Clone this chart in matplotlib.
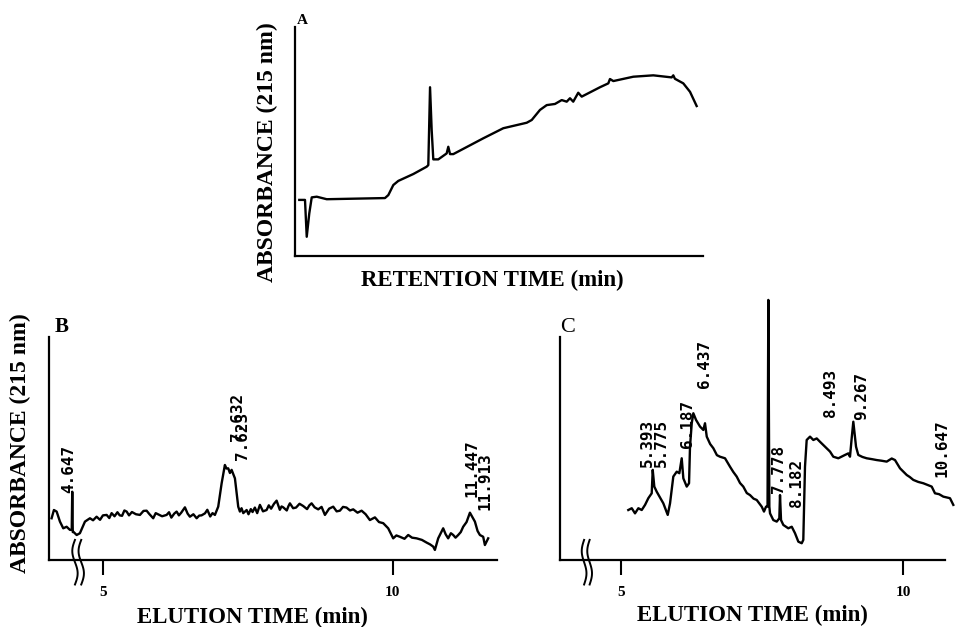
import numpy as np
import matplotlib
matplotlib.use('Agg')
import matplotlib.pyplot as plt

SERIF = 'Liberation Serif'
MONO = 'DejaVu Sans Mono'

# Panel A: retention time (arbitrary min) vs absorbance (arbitrary units)
a_time = [0.42, 0.98, 1.15, 1.40, 1.64, 2.13, 3.11, 5.39, 8.82, 9.15, 9.64, 10.13,
          11.60, 12.91, 13.07, 13.24, 13.40, 13.56, 14.05, 14.87, 15.03, 15.20, 15.52,
          18.46, 20.42, 22.72, 23.21, 24.02, 24.68, 25.49, 26.15, 26.64, 26.96, 27.28,
          27.77, 28.11, 29.90, 30.72, 30.88, 31.21, 33.17, 35.13, 36.93, 37.09, 37.25,
          38.07, 38.73, 39.38]
a_abs = [0.245, 0.245, 0.084, 0.186, 0.256, 0.259, 0.248, 0.250, 0.253, 0.266, 0.310, 0.328,
         0.358, 0.390, 0.397, 0.737, 0.550, 0.422, 0.422, 0.448, 0.477, 0.445, 0.445,
         0.514, 0.558, 0.582, 0.594, 0.638, 0.659, 0.664, 0.681, 0.674, 0.689, 0.674,
         0.713, 0.696, 0.737, 0.754, 0.773, 0.764, 0.783, 0.789, 0.780, 0.789, 0.774,
         0.754, 0.717, 0.655]

# Panel B: elution time (min) vs absorbance
b_time = [4.115, 4.155, 4.202, 4.259, 4.316, 4.374, 4.431, 4.462, 4.471, 4.480, 4.488,
          4.547, 4.603, 4.690, 4.776, 4.83, 4.891, 4.95, 5.00, 5.064, 5.11, 5.15, 5.20, 5.25,
          5.29, 5.33, 5.37, 5.409, 5.45, 5.50, 5.57, 5.638, 5.70, 5.753, 5.80, 5.867, 5.91,
          5.95, 6.02, 6.098, 6.14, 6.18, 6.23, 6.271, 6.31, 6.35, 6.414, 6.46, 6.500, 6.56,
          6.616, 6.66, 6.70, 6.759, 6.80, 6.85, 6.89, 6.931, 6.988, 7.047, 7.103, 7.13,
          7.160, 7.19, 7.219, 7.276, 7.333, 7.362, 7.39, 7.42, 7.478, 7.51, 7.55, 7.58, 7.62,
          7.66, 7.707, 7.76, 7.822, 7.86, 7.90, 7.95, 7.995, 8.05, 8.08, 8.109, 8.17, 8.20,
          8.224, 8.28, 8.33, 8.39, 8.453, 8.52, 8.56, 8.598, 8.65, 8.712, 8.77, 8.828, 8.90,
          8.971, 9.03, 9.086, 9.14, 9.20, 9.26, 9.316, 9.39, 9.460, 9.53, 9.603, 9.690,
          9.76, 9.833, 9.919, 10.005, 10.06, 10.121, 10.20, 10.264, 10.33, 10.409, 10.50,
          10.581, 10.64, 10.695, 10.724, 10.781, 10.867, 10.91, 10.953, 11.00, 11.040,
          11.08, 11.126, 11.17, 11.212, 11.27, 11.328, 11.414, 11.46, 11.500, 11.557,
          11.586, 11.643]
b_abs = [0.187, 0.224, 0.217, 0.172, 0.142, 0.149, 0.135, 0.135, 0.306, 0.125, 0.127,
         0.112, 0.120, 0.172, 0.187, 0.178, 0.194, 0.180, 0.200, 0.202, 0.188, 0.210, 0.196,
         0.214, 0.200, 0.198, 0.222, 0.217, 0.200, 0.215, 0.205, 0.202, 0.220, 0.221, 0.206,
         0.187, 0.210, 0.205, 0.196, 0.202, 0.214, 0.190, 0.208, 0.217, 0.200, 0.212, 0.236,
         0.208, 0.194, 0.205, 0.187, 0.199, 0.200, 0.209, 0.225, 0.195, 0.210, 0.202, 0.239,
         0.344, 0.426, 0.410, 0.411, 0.390, 0.404, 0.366, 0.239, 0.217, 0.232, 0.210, 0.224,
         0.205, 0.228, 0.215, 0.235, 0.210, 0.247, 0.218, 0.224, 0.245, 0.230, 0.252, 0.266,
         0.225, 0.240, 0.236, 0.222, 0.242, 0.254, 0.232, 0.235, 0.252, 0.242, 0.228, 0.245,
         0.254, 0.236, 0.227, 0.238, 0.202, 0.230, 0.239, 0.218, 0.221, 0.238, 0.235, 0.222,
         0.227, 0.212, 0.221, 0.205, 0.179, 0.191, 0.170, 0.165, 0.142, 0.097, 0.110, 0.104,
         0.095, 0.112, 0.100, 0.097, 0.090, 0.078, 0.070, 0.060, 0.045, 0.097, 0.142,
         0.115, 0.097, 0.120, 0.112, 0.100, 0.112, 0.125, 0.149, 0.170, 0.212, 0.172,
         0.130, 0.112, 0.104, 0.067, 0.097]
b_peaks = ['4.647', '7.623', '7.632', '11.447', '11.913']
b_peak_x = [4.414, 7.414, 7.320, 11.362, 11.586]
b_peak_y = [0.300, 0.448, 0.535, 0.283, 0.224]

# Panel C: elution time (min) vs absorbance
c_time = [5.129, 5.190, 5.248, 5.307, 5.367, 5.426, 5.484, 5.544, 5.562, 5.590, 5.633,
          5.750, 5.828, 5.869, 5.927, 5.988, 6.034, 6.076, 6.105, 6.165, 6.206, 6.223,
          6.254, 6.282, 6.330, 6.401, 6.459, 6.489, 6.520, 6.58, 6.637, 6.70, 6.755, 6.844,
          6.933, 6.99, 7.051, 7.11, 7.168, 7.23, 7.287, 7.35, 7.406, 7.495, 7.535, 7.571,
          7.598, 7.612, 7.630, 7.642, 7.700, 7.761, 7.807, 7.819, 7.837, 7.878, 7.966,
          8.027, 8.085, 8.144, 8.204, 8.232, 8.262, 8.292, 8.351, 8.410, 8.47, 8.528, 8.617,
          8.706, 8.764, 8.853, 8.972, 9.030, 9.060, 9.090, 9.119, 9.167, 9.207, 9.28, 9.356,
          9.45, 9.534, 9.62, 9.711, 9.80, 9.858, 9.947, 10.066, 10.12, 10.183, 10.27, 10.360,
          10.44, 10.509, 10.567, 10.64, 10.715, 10.833, 10.892]
c_abs = [0.224, 0.232, 0.209, 0.232, 0.224, 0.247, 0.277, 0.299, 0.404, 0.329, 0.306,
         0.254, 0.202, 0.254, 0.374, 0.396, 0.389, 0.456, 0.366, 0.329, 0.344, 0.508,
         0.613, 0.658, 0.628, 0.598, 0.583, 0.613, 0.553, 0.520, 0.501, 0.470, 0.463, 0.456,
         0.418, 0.395, 0.374, 0.345, 0.329, 0.300, 0.291, 0.275, 0.269, 0.239, 0.217, 0.239,
         0.239, 1.166, 0.239, 0.209, 0.179, 0.172, 0.187, 0.291, 0.179, 0.157, 0.142,
         0.149, 0.120, 0.082, 0.075, 0.090, 0.418, 0.538, 0.553, 0.538, 0.545, 0.530, 0.508,
         0.486, 0.463, 0.456, 0.471, 0.478, 0.463, 0.546, 0.620, 0.508, 0.471, 0.462, 0.456,
         0.452, 0.448, 0.445, 0.441, 0.455, 0.448, 0.411, 0.381, 0.372, 0.359, 0.350, 0.344,
         0.336, 0.329, 0.299, 0.295, 0.284, 0.277, 0.247]
c_peaks = ['5.393', '5.775', '6.187', '6.437', '7.778', '8.182', '8.493', '9.267', '10.647']
c_peak_x = [5.461, 5.709, 6.170, 6.472, 7.801, 8.103, 8.723, 9.273, 10.691]
c_peak_y = [0.417, 0.417, 0.500, 0.771, 0.300, 0.238, 0.641, 0.628, 0.372]

ticks_bc = [5, 10]
tick_labels_bc = ['5', '10']


def style_axes(ax):
    '''Only the left and bottom axis lines, drawn heavy like the printout'''
    ax.spines['top'].set_visible(False)
    ax.spines['right'].set_visible(False)
    ax.spines['left'].set_linewidth(1.6)
    ax.spines['bottom'].set_linewidth(1.6)
    ax.set_yticks([])


def draw_break(ax, xfrac):
    '''Two wavy strokes across the time axis'''
    s = np.linspace(0, 1, 30)
    yy = -0.11 + 0.20 * s
    for off in (-0.007, 0.007):
        xx = xfrac + off + 0.006 * np.sin(2 * np.pi * s)
        ax.plot(xx, yy, color='black', lw=1.4, transform=ax.transAxes, clip_on=False)


fig = plt.figure(figsize=(9.55, 6.27), dpi=100)

# ---- Panel A ----
axA = fig.add_axes([0.3089, 0.5917, 0.4272, 0.3652])
axA.plot(a_time, a_abs, color='black', lw=1.7)
axA.set_xlim(0, 40)
axA.set_ylim(0, 1)
style_axes(axA)
axA.set_xticks([])
axA.text(0.005, 1.0, 'A', transform=axA.transAxes, fontsize=11, fontweight='bold',
         family=SERIF, ha='left', va='bottom')

fig.text(267 / 955, 1 - 152 / 627, 'ABSORBANCE (215 nm)', rotation=90, fontsize=17,
         fontweight='bold', family=SERIF, ha='center', va='center')
fig.text(492 / 955, 1 - 280 / 627, 'RETENTION TIME (min)', fontsize=16.5,
         fontweight='bold', family=SERIF, ha='center', va='center')

# ---- Panel B ----
axB = fig.add_axes([0.0513, 0.1069, 0.469, 0.3557])
axB.plot(b_time, b_abs, color='black', lw=1.7)
axB.set_xlim(4.07, 11.793)
axB.set_ylim(0, 1)
style_axes(axB)
axB.set_xticks(ticks_bc)
axB.set_xticklabels(tick_labels_bc, family=SERIF, fontweight='bold', fontsize=11)
axB.tick_params(axis='x', direction='out', length=11, width=1.5, pad=8)
for lab, x, y in zip(b_peaks, b_peak_x, b_peak_y):
    axB.text(x, y, lab, rotation=90, family=MONO, fontweight='bold', fontsize=11.5,
             ha='center', va='bottom')
draw_break(axB, 0.065)
axB.text(0.012, 1.0, 'B', transform=axB.transAxes, fontsize=15, fontweight='bold',
         family=SERIF, ha='left', va='bottom')

fig.text(20 / 955, 1 - 443 / 627, 'ABSORBANCE (215 nm)', rotation=90, fontsize=17,
         fontweight='bold', family=SERIF, ha='center', va='center')
fig.text(252 / 955, 1 - 617 / 627, 'ELUTION TIME (min)', fontsize=16.5,
         fontweight='bold', family=SERIF, ha='center', va='center')

# ---- Panel C ----
axC = fig.add_axes([0.5864, 0.1069, 0.4136, 0.3557])
axC.plot(c_time, c_abs, color='black', lw=1.7, clip_on=False)
axC.set_xlim(3.918, 10.922)
axC.set_ylim(0, 1)
style_axes(axC)
axC.spines['bottom'].set_bounds(3.918, 10.745)
axC.set_xticks(ticks_bc)
axC.set_xticklabels(tick_labels_bc, family=SERIF, fontweight='bold', fontsize=11)
axC.tick_params(axis='x', direction='out', length=11, width=1.5, pad=8)
for lab, x, y in zip(c_peaks, c_peak_x, c_peak_y):
    axC.text(x, y, lab, rotation=90, family=MONO, fontweight='bold', fontsize=11.5,
             ha='center', va='bottom')
draw_break(axC, 0.068)
axC.text(0.0, 1.0, 'C', transform=axC.transAxes, fontsize=16, family=SERIF,
         ha='left', va='bottom')

fig.text(752 / 955, 1 - 615 / 627, 'ELUTION TIME (min)', fontsize=16.5,
         fontweight='bold', family=SERIF, ha='center', va='center')

fig.savefig('out.png', dpi=100)
